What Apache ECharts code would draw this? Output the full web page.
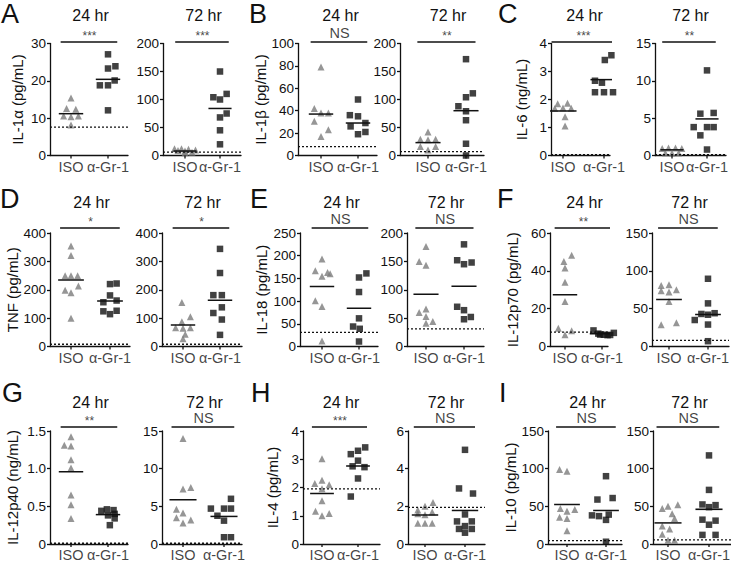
<!DOCTYPE html>
<html>
<head>
<meta charset="utf-8">
<script src="https://cdn.jsdelivr.net/npm/echarts@6/dist/echarts.min.js"></script>
<style>
html, body { margin: 0; padding: 0; background: #fff; }
#chart { width: 731px; height: 565px; }
#err { position: absolute; left: 0; top: 0; font: 11px monospace; color: red; white-space: pre-wrap; width: 720px; }
</style>
</head>
<body>
<div id="chart"></div>
<div id="err"></div>
<script>
var groups = ['ISO', 'α-Gr-1'];
var times = ['24 hr', '72 hr'];
var letters = ['A', 'B', 'C', 'D', 'E', 'F', 'G', 'H', 'I'];
var yNames = ['IL-1α (pg/mL)', 'IL-1β (pg/mL)', 'IL-6 (ng/mL)', 'TNF (pg/mL)', 'IL-18 (pg/mL)',
	'IL-12p70 (pg/mL)', 'IL-12p40 (ng/mL)', 'IL-4 (pg/mL)', 'IL-10 (pg/mL)'];

// order of the 18 plots: A24, A72, B24, B72, ... I24, I72
var yMax  = [30, 200, 100, 200, 4, 15, 400, 400, 250, 200, 60, 150, 1.5, 15, 4, 6, 150, 150];
var yStep = [10, 50, 20, 50, 1, 5, 100, 100, 50, 50, 20, 50, 0.5, 5, 1, 2, 50, 50];
var isoMeans = [11.2, 8, 37, 23, 1.59, 0.76, 234, 76, 132, 92, 27.4, 62, 0.96, 5.87, 1.79, 1.54, 52.5, 28];
var grMeans  = [20.4, 84, 29, 80, 2.71, 4.9, 160, 163, 84, 106, 6.7, 42.3, 0.39, 3.66, 2.76, 1.78, 44.5, 46];
var cutoffs  = [7.6, 6, 8, 7, 0.03, 0.1, 8, 8, 31, 31, 7.6, 8, 0.01, 0.1, 1.95, 1.95, 4.5, 5.4];
var sigText  = ['***', '***', 'NS', '**', '***', '**', '*', '*', 'NS', 'NS', '**', 'NS', '**', 'NS', '***', 'NS', 'NS', 'NS'];

// measured values, and sideways scatter of each point (in category units)
var a24Iso = [15.4, 12.6, 12.4, 10.6, 10.4, 10.6, 8.2];
var a24IsoJit = [0, -0.12, 0.13, -0.2, 0, 0.2, 0];
var a24Gr = [27.1, 23.3, 23.9, 18.8, 18.8, 20.1, 12.1];
var a24GrJit = [0, 0, 0.2, -0.22, 0, 0.18, 0];
var a72Iso = [12, 12, 11, 10, 9, 8, 6, 5];
var a72IsoJit = [-0.3, -0.1, 0.1, 0.3, -0.2, 0, 0.2, 0];
var a72Gr = [150, 104, 100, 110, 75, 68, 45, 20];
var a72GrJit = [0, -0.19, 0, 0.19, 0.19, 0, 0, 0];

var b24Iso = [79, 42, 38, 38, 30.5, 23, 17];
var b24IsoJit = [0, -0.18, 0, 0.2, -0.18, 0.2, 0];
var b24Gr = [50, 36, 35, 29, 26, 19, 21];
var b24GrJit = [0, -0.22, 0, 0.2, -0.2, 0, 0.2];
var b72Iso = [42, 29, 28, 29, 16, 16, 10];
var b72IsoJit = [0, -0.2, 0, 0.2, -0.2, 0.2, 0];
var b72Gr = [172, 111, 104, 88, 79, 63, 21, 0];
var b72GrJit = [0, 0.18, 0, -0.2, 0, 0, 0, 0];

var c24Iso = [1.85, 1.87, 1.68, 1.7, 1.69, 1.38, 1.05];
var c24IsoJit = [-0.13, 0.11, -0.2, 0, 0.2, 0.05, 0.05];
var c24Gr = [3.41, 3.58, 2.67, 2.6, 2.26, 2.26, 2.26];
var c24GrJit = [0.02, 0.18, -0.22, -0.05, -0.22, 0, 0.22];
var c72Iso = [0.95, 1.0, 1.0, 0.95, 0.35, 0.3, 0.35];
var c72IsoJit = [-0.28, -0.1, 0.1, 0.28, -0.19, 0, 0.19];
var c72Gr = [11.4, 5.6, 5.7, 3.8, 3.8, 3.8, 2.7, 0.8];
var c72GrJit = [0, -0.19, 0.19, -0.38, 0, 0.19, -0.19, 0];

var d24Iso = [354, 321, 249, 249, 249, 198, 213, 189, 100];
var d24IsoJit = [0, 0, -0.15, 0, 0.17, -0.15, 0.19, 0, 0];
var d24Gr = [220, 222, 180, 156, 162, 124, 126, 114];
var d24GrJit = [0, 0.17, 0, -0.17, 0.17, -0.17, 0.17, 0];
var d72Iso = [155, 105, 87, 66, 64, 66, 43, 27];
var d72IsoJit = [-0.03, 0.2, -0.03, -0.2, 0, 0.2, 0.06, 0];
var d72Gr = [344, 259, 181, 181, 118, 138, 95, 41];
var d72GrJit = [0, 0, -0.18, 0.05, -0.18, 0.05, 0.05, 0];

var e24Iso = [193, 167, 155, 163, 160, 101, 88, 12];
var e24IsoJit = [0, -0.18, 0, 0.15, 0.22, -0.18, 0, 0];
var e24Gr = [161, 152, 120, 62, 44, 39, 11];
var e24GrJit = [0.2, 0, 0, 0, -0.16, 0.02, 0];
var e72Iso = [176, 150, 143, 60, 66, 53, 41, 44];
var e72IsoJit = [0, -0.18, 0, -0.18, 0, 0, 0, 0.18];
var e72Gr = [180, 152, 145, 148, 70, 64, 48, 52];
var e72GrJit = [0, -0.18, 0, 0.2, -0.18, 0, 0, 0.18];

var f24Iso = [48.2, 45, 41.5, 34, 23.8, 9.7, 8.3, 6.2];
var f24IsoJit = [0.18, -0.03, 0, 0, 0, -0.18, 0.18, 0];
var f24Gr = [8.5, 7.2, 6.8, 6.2, 6.0, 6.3, 6.1];
var f24GrJit = [-0.23, 0.32, -0.1, 0.05, 0.15, -0.05, 0.22];
var f72Iso = [80.7, 81.6, 75, 73.7, 72, 59.6, 28.7, 31.3];
var f72IsoJit = [-0.2, 0, 0.19, -0.2, 0, 0, -0.2, 0.19];
var f72Gr = [89.5, 57, 43, 44, 42, 35, 29, 7];
var f72GrJit = [0, 0, -0.17, 0.17, 0, -0.34, 0, 0];

var g24Iso = [1.425, 1.31, 1.30, 1.12, 1.01, 0.65, 0.52, 0.34];
var g24IsoJit = [0, -0.18, 0, 0, 0, 0, 0, 0];
var g24Gr = [0.44, 0.46, 0.45, 0.40, 0.38, 0.34, 0.25];
var g24GrJit = [-0.18, -0.03, 0.15, 0.18, 0, 0.18, 0.05];
var g72Iso = [14, 7.3, 7.5, 4.6, 4.1, 3.5, 3.2, 2.8];
var g72IsoJit = [0, 0, 0.19, -0.16, 0, -0.16, 0.19, 0];
var g72Gr = [6.0, 4.7, 4.7, 4.7, 3.75, 3.1, 0.9, 0.9];
var g72GrJit = [0.17, -0.32, 0, 0.17, -0.16, 0, 0, 0.17];

var h24Iso = [3.02, 2.26, 2.14, 2.1, 1.96, 1.53, 1.16, 1.0, 1.08];
var h24IsoJit = [0, 0, -0.2, 0.2, 0, 0, -0.18, 0, 0.2];
var h24Gr = [3.42, 3.3, 3.18, 2.95, 2.75, 2.72, 2.32, 1.68];
var h24GrJit = [0.2, 0, -0.2, 0, -0.15, 0.18, 0, -0.2];
var h72Iso = [2.2, 2.0, 1.8, 1.7, 1.6, 1.55, 1.1, 1.1, 1.1];
var h72IsoJit = [0.2, 0, -0.18, 0.18, -0.18, 0, -0.18, 0, 0.18];
var h72Gr = [5.0, 2.95, 2.68, 1.57, 1.2, 1.2, 0.95, 0.8, 0.8, 0.6];
var h72GrJit = [0, -0.15, 0.2, 0, -0.2, 0.17, 0, -0.15, 0.17, 0];

var i24Iso = [98.8, 96.5, 47, 45.8, 43.6, 35.5, 33.7, 17.5];
var i24IsoJit = [-0.19, 0, -0.17, 0.2, 0, -0.19, 0, 0];
var i24Gr = [90, 59, 61, 38, 37, 39, 32, 3];
var i24GrJit = [0, -0.22, 0.17, -0.36, -0.18, 0.07, 0, 0];
var i72Iso = [50, 52, 47, 40, 34, 24, 20, 13, 5, 5];
var i72IsoJit = [0, 0.24, -0.14, 0.1, 0.16, -0.14, 0.04, -0.14, 0, 0.16];
var i72Gr = [117.6, 71.8, 52.5, 51.6, 48.9, 32.3, 31, 25.6, 12.1, 12.1];
var i72GrJit = [0, 0, -0.16, 0.16, 0, -0.16, 0.16, 0, -0.16, 0.16];

var plotData = [
	[a24Iso, a24IsoJit, a24Gr, a24GrJit], [a72Iso, a72IsoJit, a72Gr, a72GrJit],
	[b24Iso, b24IsoJit, b24Gr, b24GrJit], [b72Iso, b72IsoJit, b72Gr, b72GrJit],
	[c24Iso, c24IsoJit, c24Gr, c24GrJit], [c72Iso, c72IsoJit, c72Gr, c72GrJit],
	[d24Iso, d24IsoJit, d24Gr, d24GrJit], [d72Iso, d72IsoJit, d72Gr, d72GrJit],
	[e24Iso, e24IsoJit, e24Gr, e24GrJit], [e72Iso, e72IsoJit, e72Gr, e72GrJit],
	[f24Iso, f24IsoJit, f24Gr, f24GrJit], [f72Iso, f72IsoJit, f72Gr, f72GrJit],
	[g24Iso, g24IsoJit, g24Gr, g24GrJit], [g72Iso, g72IsoJit, g72Gr, g72GrJit],
	[h24Iso, h24IsoJit, h24Gr, h24GrJit], [h72Iso, h72IsoJit, h72Gr, h72GrJit],
	[i24Iso, i24IsoJit, i24Gr, i24GrJit], [i72Iso, i72IsoJit, i72Gr, i72GrJit]
];

// layout (pixels): y axis x, ISO column x, α-Gr-1 column x, right end of x axis
var axX    = [50, 163, 298, 400, 551, 655, 50, 162, 300, 407, 550, 652, 50, 162, 303, 408, 548, 653];
var isoX   = [71, 185, 321, 428, 563, 672, 71, 183, 322, 426, 565, 669, 71, 183, 322, 425, 567, 668];
var grX    = [108, 220, 358, 466, 604, 707, 110, 220, 359, 464, 602, 708, 108, 224, 358, 465, 606, 709];
var rightX = [128, 241, 377, 484, 610, 726, 130, 242, 378, 484, 608, 729, 128, 242, 380, 485, 622, 731];
var rowTop = [43.5, 233, 431];
var rowBottom = [155.5, 346.5, 544];
var barLift = [1.5, 5, 4];
var titleY = [15, 202, 402];
var letterX = [1, 249, 498, 0, 250, 497, 2, 251, 499];
var letterY = [14, 199, 393];
var nameGaps = [25, 25, 22, 30, 31, 30, 30, 23, 29];

var FONT = '"Liberation Sans", Arial, sans-serif';
var INK = '#111';
var CLEAR = 'rgba(0,0,0,0)';

function fmtHalf(v) {
	return v == 0 ? '0' : v.toFixed(1);
}

function segment(i, pts, width, dash) {
	return {
		type: 'line', xAxisIndex: i, yAxisIndex: i, data: pts,
		symbol: 'none', clip: false, silent: true, z: 3,
		lineStyle: {color: INK, width: width, type: dash}
	};
}

function textPoints(i, pts, pos, dist, size) {
	return {
		type: 'scatter', xAxisIndex: i, yAxisIndex: i, data: pts,
		symbolSize: 1, itemStyle: {color: CLEAR}, clip: false, silent: true, z: 4,
		label: {
			show: true, position: pos, distance: dist, fontSize: size, color: INK, fontFamily: FONT,
			formatter: function (p) { return p.value[2]; }
		}
	};
}

function build() {
	var grids = [], xAxes = [], yAxes = [], series = [], graphics = [];

	for (var i = 0; i < 18; i++) {
		var row = Math.floor(i / 6);
		var panel = Math.floor(i / 2);
		var u = grX[i] - isoX[i];
		var xmin = 1 - (isoX[i] - axX[i]) / u;
		var xmax = 2 + (rightX[i] - grX[i]) / u;
		var top = rowTop[row];
		var h = rowBottom[row] - top;

		grids.push({left: axX[i], top: top, width: rightX[i] - axX[i], height: h});

		xAxes.push({
			type: 'value', gridIndex: i, min: xmin, max: xmax,
			splitLine: {show: false},
			axisLine: {onZero: false, lineStyle: {color: INK, width: 1.3}},
			axisTick: {show: false},
			axisLabel: {show: false}
		});

		var yAxis = {
			type: 'value', gridIndex: i, min: 0, max: yMax[i], interval: yStep[i],
			splitLine: {show: false},
			axisLine: {show: true, lineStyle: {color: INK, width: 1.3}},
			axisTick: {show: true, length: 3, lineStyle: {color: INK, width: 1.3}},
			axisLabel: {margin: 4, fontSize: 13.5, color: INK, fontFamily: FONT}
		};
		if (yStep[i] < 1) yAxis.axisLabel.formatter = fmtHalf;
		if (i % 2 == 0) {
			yAxis.name = yNames[panel];
			yAxis.nameLocation = 'middle';
			yAxis.nameGap = nameGaps[panel];
			yAxis.nameTextStyle = {fontSize: 15, color: INK, fontFamily: FONT};
		}
		yAxes.push(yAxis);

		var d = plotData[i];
		var isoPts = [], grPts = [];
		for (var k = 0; k < d[0].length; k++) isoPts.push([1 + d[1][k], d[0][k]]);
		for (var k = 0; k < d[2].length; k++) grPts.push([2 + d[3][k], d[2][k]]);

		series.push({
			type: 'scatter', xAxisIndex: i, yAxisIndex: i, data: isoPts,
			symbol: 'triangle', symbolSize: 7, itemStyle: {color: '#7c7c7c'}, clip: false, silent: true
		});
		series.push({
			type: 'scatter', xAxisIndex: i, yAxisIndex: i, data: grPts,
			symbol: 'rect', symbolSize: 6.5, itemStyle: {color: '#111'}, clip: false, silent: true
		});

		// mean lines, cutoff, significance bar
		series.push(segment(i, [[0.67, isoMeans[i]], [1.33, isoMeans[i]]], 1.5, 'solid'));
		series.push(segment(i, [[1.67, grMeans[i]], [2.33, grMeans[i]]], 1.5, 'solid'));
		series.push(segment(i, [[xmin, cutoffs[i]], [xmax, cutoffs[i]]], 1.3, [2, 2]));
		var yb = yMax[i] * (1 + barLift[row] / h);
		series.push(segment(i, [[0.72, yb], [2.25, yb]], 1.5, 'solid'));

		// x ticks and group names under the axis
		var yt = -yMax[i] * 3 / h;
		series.push(segment(i, [[1, 0], [1, yt]], 1.3, 'solid'));
		series.push(segment(i, [[2, 0], [2, yt]], 1.3, 'solid'));
		series.push(textPoints(i, [[1, 0, groups[0]], [2, 0, groups[1]]], 'bottom', 3, 14.5));

		var isStar = sigText[i].charAt(0) == '*';
		series.push(textPoints(i, [[1.5, yb, sigText[i]]], 'top', isStar ? 0 : 1, isStar ? 12 : 14.5));

		graphics.push({
			type: 'text', x: (isoX[i] + grX[i]) / 2 + 1, y: titleY[row],
			style: {text: times[i % 2], font: '16px ' + FONT, fill: INK, align: 'center', verticalAlign: 'middle'}
		});
	}

	for (var p = 0; p < 9; p++) {
		graphics.push({
			type: 'text', x: letterX[p], y: letterY[Math.floor(p / 3)],
			style: {text: letters[p], font: '27px ' + FONT, fill: INK, align: 'left', verticalAlign: 'middle'}
		});
	}

	return {
		animation: false,
		backgroundColor: '#fff',
		grid: grids,
		xAxis: xAxes,
		yAxis: yAxes,
		series: series,
		graphic: graphics
	};
}

try {
	var chart = echarts.init(document.getElementById('chart'), null, {renderer: 'svg'});
	chart.setOption(build());
} catch (e) {
	document.getElementById('err').textContent = String(e && e.stack || e).slice(0, 1500);
}
</script>
</body>
</html>
